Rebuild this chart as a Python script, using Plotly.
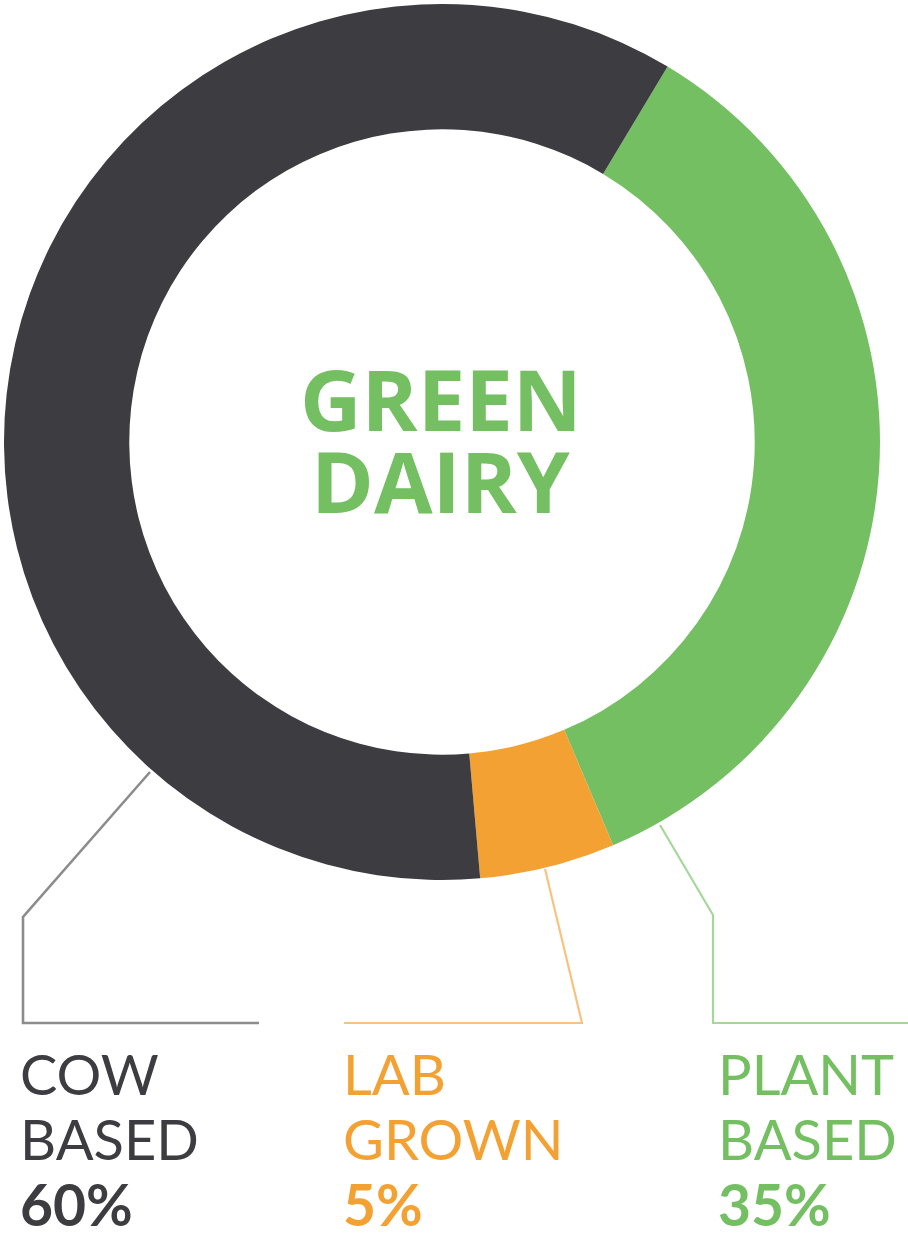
import plotly.graph_objects as go

W, H = 908, 1235

# data
categories = ["PLANT BASED", "LAB GROWN", "COW BASED"]
values = [35, 5, 60]
colors = ["#74bf62", "#f4a134", "#3d3c40"]
line_colors = ["#a5d79a", "#f8c27f", "#8c8c8e"]
label_line1 = ["PLANT", "LAB", "COW"]
label_line2 = ["BASED", "GROWN", "BASED"]
pct_labels = ["35%", "5%", "60%"]
center_title = ["GREEN", "DAIRY"]


def px(x):
    return x / W


def py(y):
    return 1 - y / H


cx, cy, R = 442, 442, 438

fig = go.Figure(go.Pie(
    labels=categories, values=values, sort=False, direction="clockwise",
    rotation=31, hole=0.714, textinfo="none", hoverinfo="label+percent",
    marker=dict(colors=colors, line=dict(width=0)),
    domain=dict(x=[px(cx - R), px(cx + R)], y=[py(cy + R), py(cy - R)]),
    showlegend=False,
))

# leader lines (pixel paths)
leaders = [
    [(660, 825), (713, 915), (713, 1023), (908, 1023)],
    [(545, 869), (582, 1023), (344, 1023)],
    [(150, 772), (23, 917), (23, 1023), (259, 1023)],
]
line_widths = [2.2, 2.2, 2.6]
label_x = [717, 342, 19]

shapes = []
for pts, lc, lw in zip(leaders, line_colors, line_widths):
    d = "M " + " L ".join(f"{px(x)},{py(y)}" for x, y in pts)
    shapes.append(dict(type="path", xref="paper", yref="paper", path=d,
                       line=dict(color=lc, width=lw)))

annotations = []
font_fam = "Lato"
for i in range(3):
    annotations.append(dict(text=label_line1[i], x=px(label_x[i]), y=py(1073),
                            xref="paper", yref="paper", xanchor="left", yanchor="middle",
                            showarrow=False, height=60, borderpad=0,
                            font=dict(family=font_fam, size=56, color=colors[i])))
    annotations.append(dict(text=label_line2[i], x=px(label_x[i]), y=py(1138),
                            xref="paper", yref="paper", xanchor="left", yanchor="middle",
                            showarrow=False, height=60, borderpad=0,
                            font=dict(family=font_fam, size=56, color=colors[i])))
    annotations.append(dict(text="<b>" + pct_labels[i] + "</b>", x=px(label_x[i]), y=py(1204),
                            xref="paper", yref="paper", xanchor="left", yanchor="middle",
                            showarrow=False, height=60, borderpad=0,
                            font=dict(family=font_fam, size=57, color=colors[i])))

for t, yy in zip(center_title, [398, 480]):
    annotations.append(dict(text="<b>" + t + "</b>", x=px(441), y=py(yy),
                            xref="paper", yref="paper", xanchor="center", yanchor="middle",
                            showarrow=False, height=78, borderpad=0,
                            font=dict(family="Open Sans", size=85, color=colors[0])))

fig.update_layout(
    width=W, height=H, margin=dict(l=0, r=0, t=0, b=0),
    paper_bgcolor="white", plot_bgcolor="white",
    shapes=shapes, annotations=annotations,
)

fig.write_html("out.html", config={"displayModeBar": False},
               post_script="document.body.style.margin='0px';")
